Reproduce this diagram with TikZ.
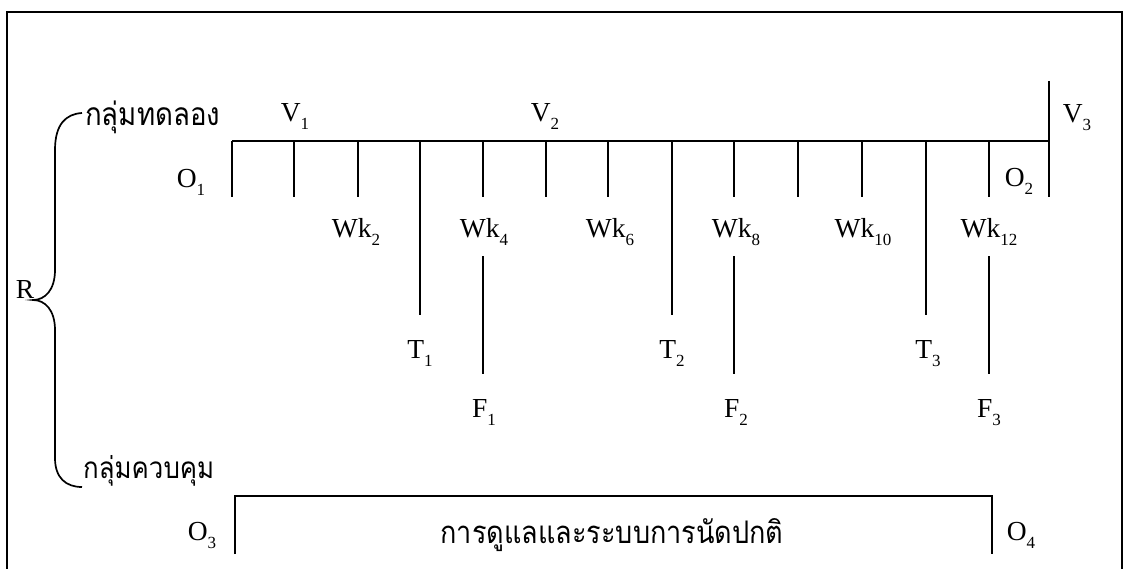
\documentclass[tikz,border=0pt]{standalone}
\usepackage{fontspec}
\setmainfont{Liberation Serif}
\newfontfamily\thaifont[Script=Thai]{Loma}
\newcommand\lbl[2]{#1\raisebox{-8pt}{\fontsize{17}{17}\selectfont #2}}
\newcommand\thw[2]{\scalebox{1}[1.15]{\resizebox{#1pt}{!}{\thaifont #2}}}
\begin{document}
\begin{tikzpicture}[x=1pt,y=-1pt,
  ln/.style={line width=1.7pt},
  lab/.style={font=\fontsize{27.5}{27.5}\selectfont, inner sep=0pt, anchor=base},
  thai/.style={font=\fontsize{26}{26}\selectfont, inner sep=0pt}]
\useasboundingbox (0,0) rectangle (1126,569);
\fill[white] (0,0) rectangle (1126,569);
% frame (open at the bottom)
\coordinate (fbl) at (7,569);
\coordinate (ftl) at (7,12);
\coordinate (ftr) at (1122,12);
\coordinate (fbr) at (1122,569);
\draw[ln] (fbl) -- (ftl) -- (ftr) -- (fbr);
% timeline
\foreach \x [count=\i] in {232,294,358,420,483,546,608,672,734,798,862,926,989,1049} {
  \coordinate (top\i) at (\x,141);
  \coordinate (bot\i) at (\x,197);
  \coordinate (lng\i) at (\x,315);
  \coordinate (fa\i) at (\x,256);
  \coordinate (fb\i) at (\x,374);
}
\draw[ln] (top1) -- (top14);
\foreach \i in {1,2,3,5,6,7,9,10,11,13,14} { \draw[ln] (top\i) -- (bot\i); }
\foreach \i in {4,8,12} { \draw[ln] (top\i) -- (lng\i); }
\foreach \i in {5,9,13} { \draw[ln] (fa\i) -- (fb\i); }
\coordinate (v3top) at (1049,81);
\draw[ln] (v3top) -- (top14);
% labels on the timeline
\node[lab] (V1) at (295,122) {\lbl{V}{1}};
\node[lab] (V2) at (545,122) {\lbl{V}{2}};
\node[lab] (V3) at (1077,123) {\lbl{V}{3}};
\node[lab] (O1) at (191,188) {\lbl{O}{1}};
\node[lab] (O2) at (1019,187) {\lbl{O}{2}};
\node[lab] (W2) at (356,237) {\lbl{Wk}{2}};
\node[lab] (W4) at (484,237) {\lbl{Wk}{4}};
\node[lab] (W6) at (610,237) {\lbl{Wk}{6}};
\node[lab] (W8) at (736,237) {\lbl{Wk}{8}};
\node[lab] (W10) at (863,237) {\lbl{Wk}{10}};
\node[lab] (W12) at (989,237) {\lbl{Wk}{12}};
\node[lab] (T1) at (420,358) {\lbl{T}{1}};
\node[lab] (T2) at (672,358) {\lbl{T}{2}};
\node[lab] (T3) at (928,358) {\lbl{T}{3}};
\node[lab] (F1) at (484,417) {\lbl{F}{1}};
\node[lab] (F2) at (736,417) {\lbl{F}{2}};
\node[lab] (F3) at (989,417) {\lbl{F}{3}};
% R and brace
\node[lab] (R) at (25,298) {R};
\coordinate (bt) at (82,113);
\coordinate (bb) at (82,487);
\coordinate (tip) at (33,300);
\draw[ln] (bt) .. controls (66,114) and (55,124) .. (55,150) -- (55,270)
  .. controls (55,290) and (45,300) .. (tip)
  .. controls (45,300) and (55,310) .. (55,330) -- (55,458)
  .. controls (55,478) and (66,487) .. (bb);
\node[thai, anchor=base west] (exp) at (85,126) {\thw{135}{กลุ่มทดลอง}};
\node[thai, anchor=base west] (ctl) at (83,478) {\thw{131}{กลุ่มควบคุม}};
% control group box
\coordinate (cb1) at (235,554);
\coordinate (cb2) at (235,496);
\coordinate (cb3) at (992,496);
\coordinate (cb4) at (992,554);
\draw[ln] (cb1) -- (cb2) -- (cb3) -- (cb4);
\node[lab] (O3) at (202,540) {\lbl{O}{3}};
\node[lab] (O4) at (1021,540) {\lbl{O}{4}};
\node[thai, anchor=base] (care) at (612,543) {\thw{343}{การดูแลและระบบการนัดปกติ}};
\end{tikzpicture}
\end{document}
